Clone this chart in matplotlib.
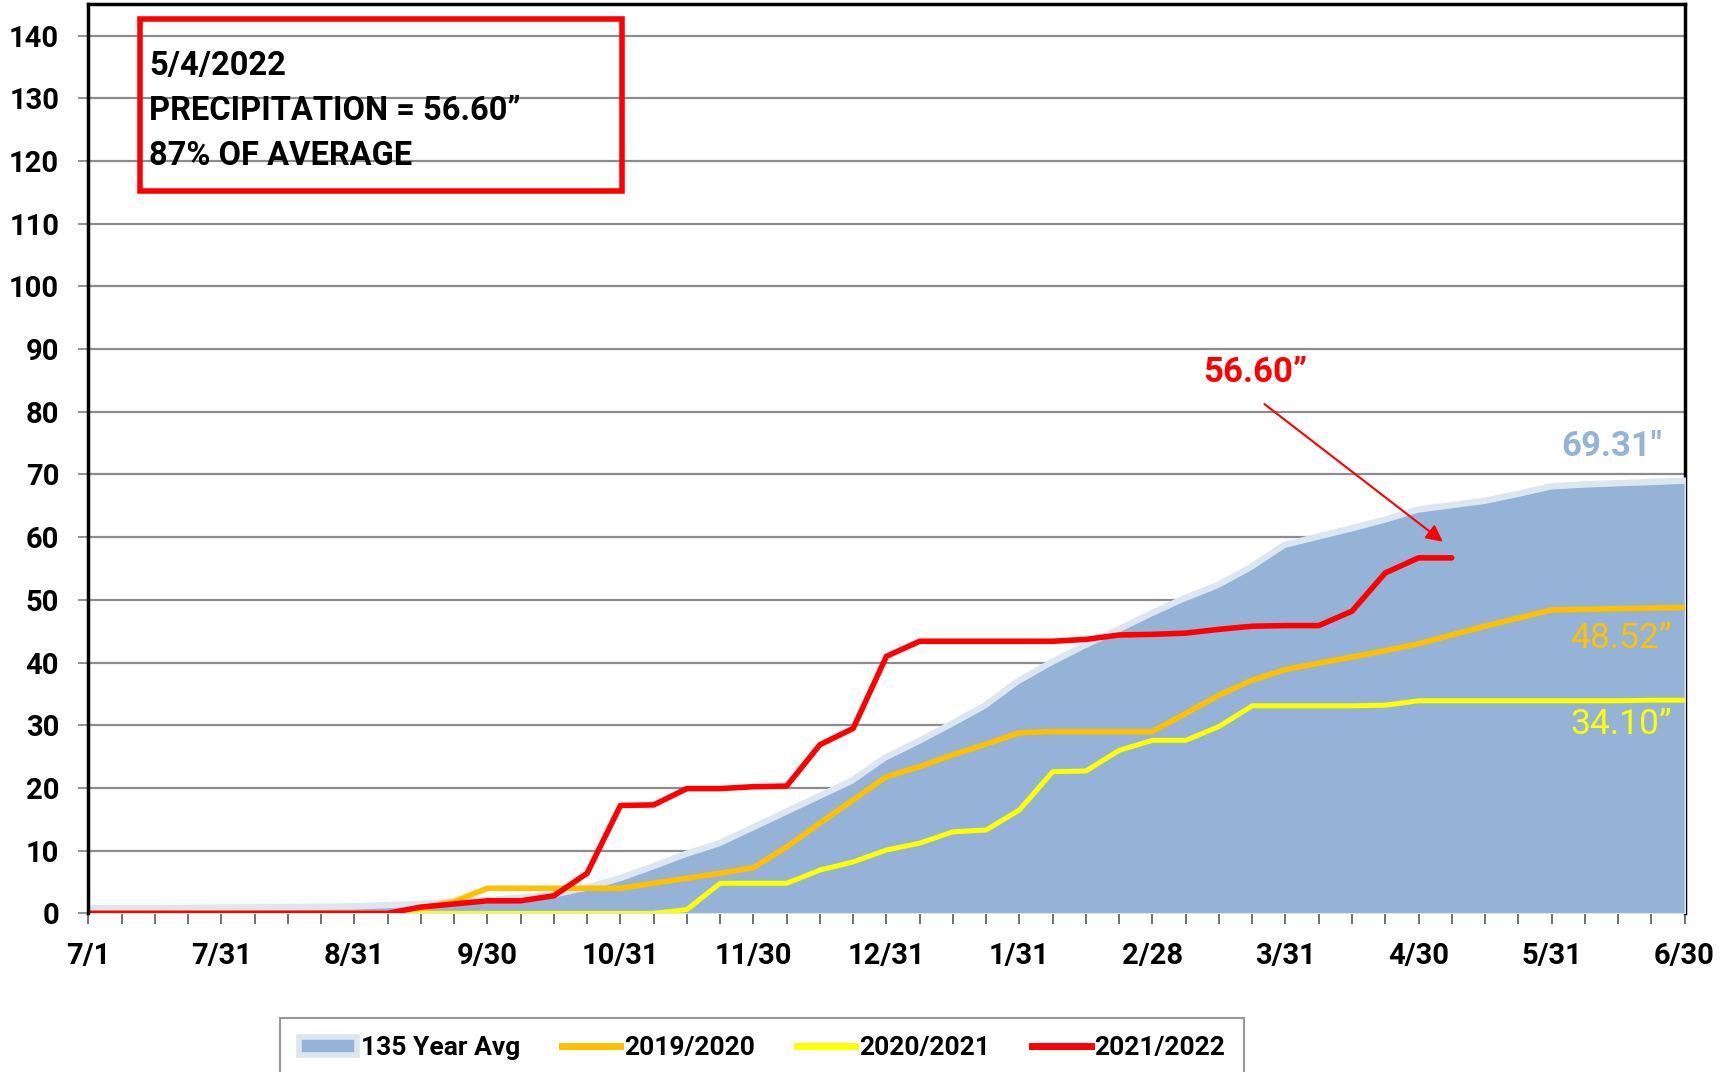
import matplotlib.pyplot as plt
from matplotlib.patches import Rectangle, Patch
from matplotlib.lines import Line2D

# weekly points, 7/1 .. 6/30 (49 points)
x_labels = ['7/1', '7/31', '8/31', '9/30', '10/31', '11/30', '12/31',
            '1/31', '2/28', '3/31', '4/30', '5/31', '6/30']

avg_135 = [0.3, 0.3, 0.3, 0.35, 0.4, 0.45, 0.5, 0.55, 0.6, 0.8,
           1.0, 1.3, 1.6, 2.0, 2.5, 3.6, 5.1, 7.0, 9.0, 10.7,
           13.2, 15.7, 18.2, 20.7, 24.4, 27.0, 29.8, 32.7, 36.6, 39.6,
           42.3, 44.8, 47.4, 49.8, 51.9, 54.8, 58.3, 59.6, 60.9, 62.3,
           63.9, 64.6, 65.3, 66.4, 67.6, 67.9, 68.1, 68.3, 68.5]

y2019 = [0, 0, 0, 0, 0, 0, 0, 0, 0, 0,
         0.8, 1.9, 4.0, 4.0, 4.0, 4.0, 4.0, 4.8, 5.6, 6.4,
         7.3, 10.6, 14.4, 18.1, 21.8, 23.4, 25.3, 27.0, 28.8, 29.0,
         29.0, 29.0, 29.0, 31.9, 34.8, 37.2, 38.9, 39.9, 40.9, 41.9,
         43.0, 44.4, 45.8, 47.1, 48.4, 48.5, 48.6, 48.7, 48.8]

y2020 = [0, 0, 0, 0, 0, 0, 0, 0, 0, 0,
         0, 0, 0, 0, 0, 0, 0, 0, 0.6, 4.8,
         4.8, 4.8, 6.9, 8.2, 10.1, 11.2, 13.0, 13.3, 16.5, 22.6,
         22.7, 26.0, 27.6, 27.6, 29.8, 33.1, 33.1, 33.1, 33.1, 33.2,
         33.9, 33.9, 33.9, 33.9, 33.9, 33.9, 33.9, 34.0, 34.0]

y2021 = [0, 0, 0, 0, 0, 0, 0, 0, 0, 0,
         1.0, 1.5, 2.0, 2.0, 2.8, 6.4, 17.2, 17.3, 19.9, 19.9,
         20.2, 20.3, 26.9, 29.5, 41.0, 43.4, 43.4, 43.4, 43.4, 43.4,
         43.7, 44.4, 44.5, 44.7, 45.3, 45.8, 45.9, 45.9, 48.2, 54.3,
         56.7, 56.7]

dark_blue = '#95b3d7'
light_blue = '#dce6f1'
orange = '#ffc000'
yellow = '#ffff00'
red = '#ff0000'

plt.rcParams['font.family'] = ['Roboto', 'DejaVu Sans']

fig = plt.figure(figsize=(17.32, 10.72), dpi=100)
ax = fig.add_axes([0.051, 0.148, 0.9216, 0.848])

x_avg = list(range(len(avg_135)))
ax.fill_between(x_avg, 0, avg_135, facecolor=light_blue, edgecolor=light_blue,
                linewidth=10, zorder=3)
ax.fill_between(x_avg, 0, avg_135, facecolor=dark_blue, linewidth=0, zorder=3.1)
ax.plot(range(len(y2019)), y2019, color=orange, lw=4, zorder=4)
ax.plot(range(len(y2020)), y2020, color=yellow, lw=3.6, zorder=5)
ax.plot(range(len(y2021)), y2021, color=red, lw=4, zorder=6, solid_capstyle='round')

ax.set_xlim(0, 48)
ax.set_ylim(0, 145)
ax.set_yticks(range(0, 141, 10))
ax.set_xticks(range(0, 49, 4), x_labels)
ax.set_xticks(range(49), minor=True)
ax.grid(axis='y', color='#8c8c8c', lw=1.6)
ax.set_axisbelow(True)

ax.tick_params(axis='y', direction='out', length=7, width=1.2, color='#7f7f7f',
               pad=14, labelsize=21)
ax.tick_params(axis='x', which='both', direction='out', length=8, width=1.2,
               color='#595959', pad=12.5, labelsize=21)
for lab in ax.get_xticklabels() + ax.get_yticklabels():
    lab.set_fontweight('bold')

for side in ['left', 'top', 'right']:
    ax.spines[side].set_color('black')
    ax.spines[side].set_linewidth(2.5)
ax.spines['left'].set_zorder(10)
ax.spines['top'].set_zorder(10)
ax.spines['right'].set_zorder(2)
ax.spines['bottom'].set_color('#7f7f7f')
ax.spines['bottom'].set_linewidth(1.2)
ax.spines['bottom'].set_zorder(2)

# info box
ax.add_patch(Rectangle((0.0323, 0.7947), 0.302, 0.1893, transform=ax.transAxes,
                       fill=False, edgecolor=red, lw=4, zorder=11, clip_on=False))
box_lines = ['5/4/2022', 'PRECIPITATION = 56.60\u201d', '87% OF AVERAGE']
for txt, yy in zip(box_lines, [0.932, 0.8825, 0.833]):
    ax.text(0.038, yy, txt, transform=ax.transAxes, fontsize=23.5, fontweight='bold',
            va='center', ha='left', zorder=12)

# end labels
ax.text(35.1, 86.3, '56.60\u201d', color=red, fontsize=25, fontweight='bold',
        ha='center', va='center', zorder=12)
ax.annotate('', xy=(40.8, 59.0), xytext=(35.3, 81.5),
            arrowprops=dict(arrowstyle='-|>', color=red, lw=1.5, mutation_scale=25),
            zorder=12)
ax.text(45.8, 74.5, '69.31"', color=dark_blue, fontsize=25, fontweight='bold',
        ha='center', va='center', zorder=12)
ax.text(46.1, 43.8, '48.52\u201d', color=orange, fontsize=25.5,
        ha='center', va='center', zorder=12)
ax.text(46.1, 30.1, '34.10\u201d', color=yellow, fontsize=25.5,
        ha='center', va='center', zorder=12)

handles = [Patch(facecolor=dark_blue, edgecolor=light_blue, lw=4),
           Line2D([], [], color=orange, lw=5),
           Line2D([], [], color=yellow, lw=5),
           Line2D([], [], color=red, lw=5)]
labels = ['135 Year Avg', '2019/2020', '2020/2021', '2021/2022']
leg = fig.legend(handles, labels, loc='upper center', bbox_to_anchor=(0.44, 0.0504),
                 ncol=4, fontsize=19, frameon=True, fancybox=False, borderpad=0.7,
                 borderaxespad=0, handlelength=2.2, handletextpad=0.15,
                 columnspacing=1.6)
leg.get_frame().set_edgecolor('#7f7f7f')
leg.get_frame().set_linewidth(1.5)
for t in leg.get_texts():
    t.set_fontweight('bold')

fig.savefig('out.png', dpi=100)
